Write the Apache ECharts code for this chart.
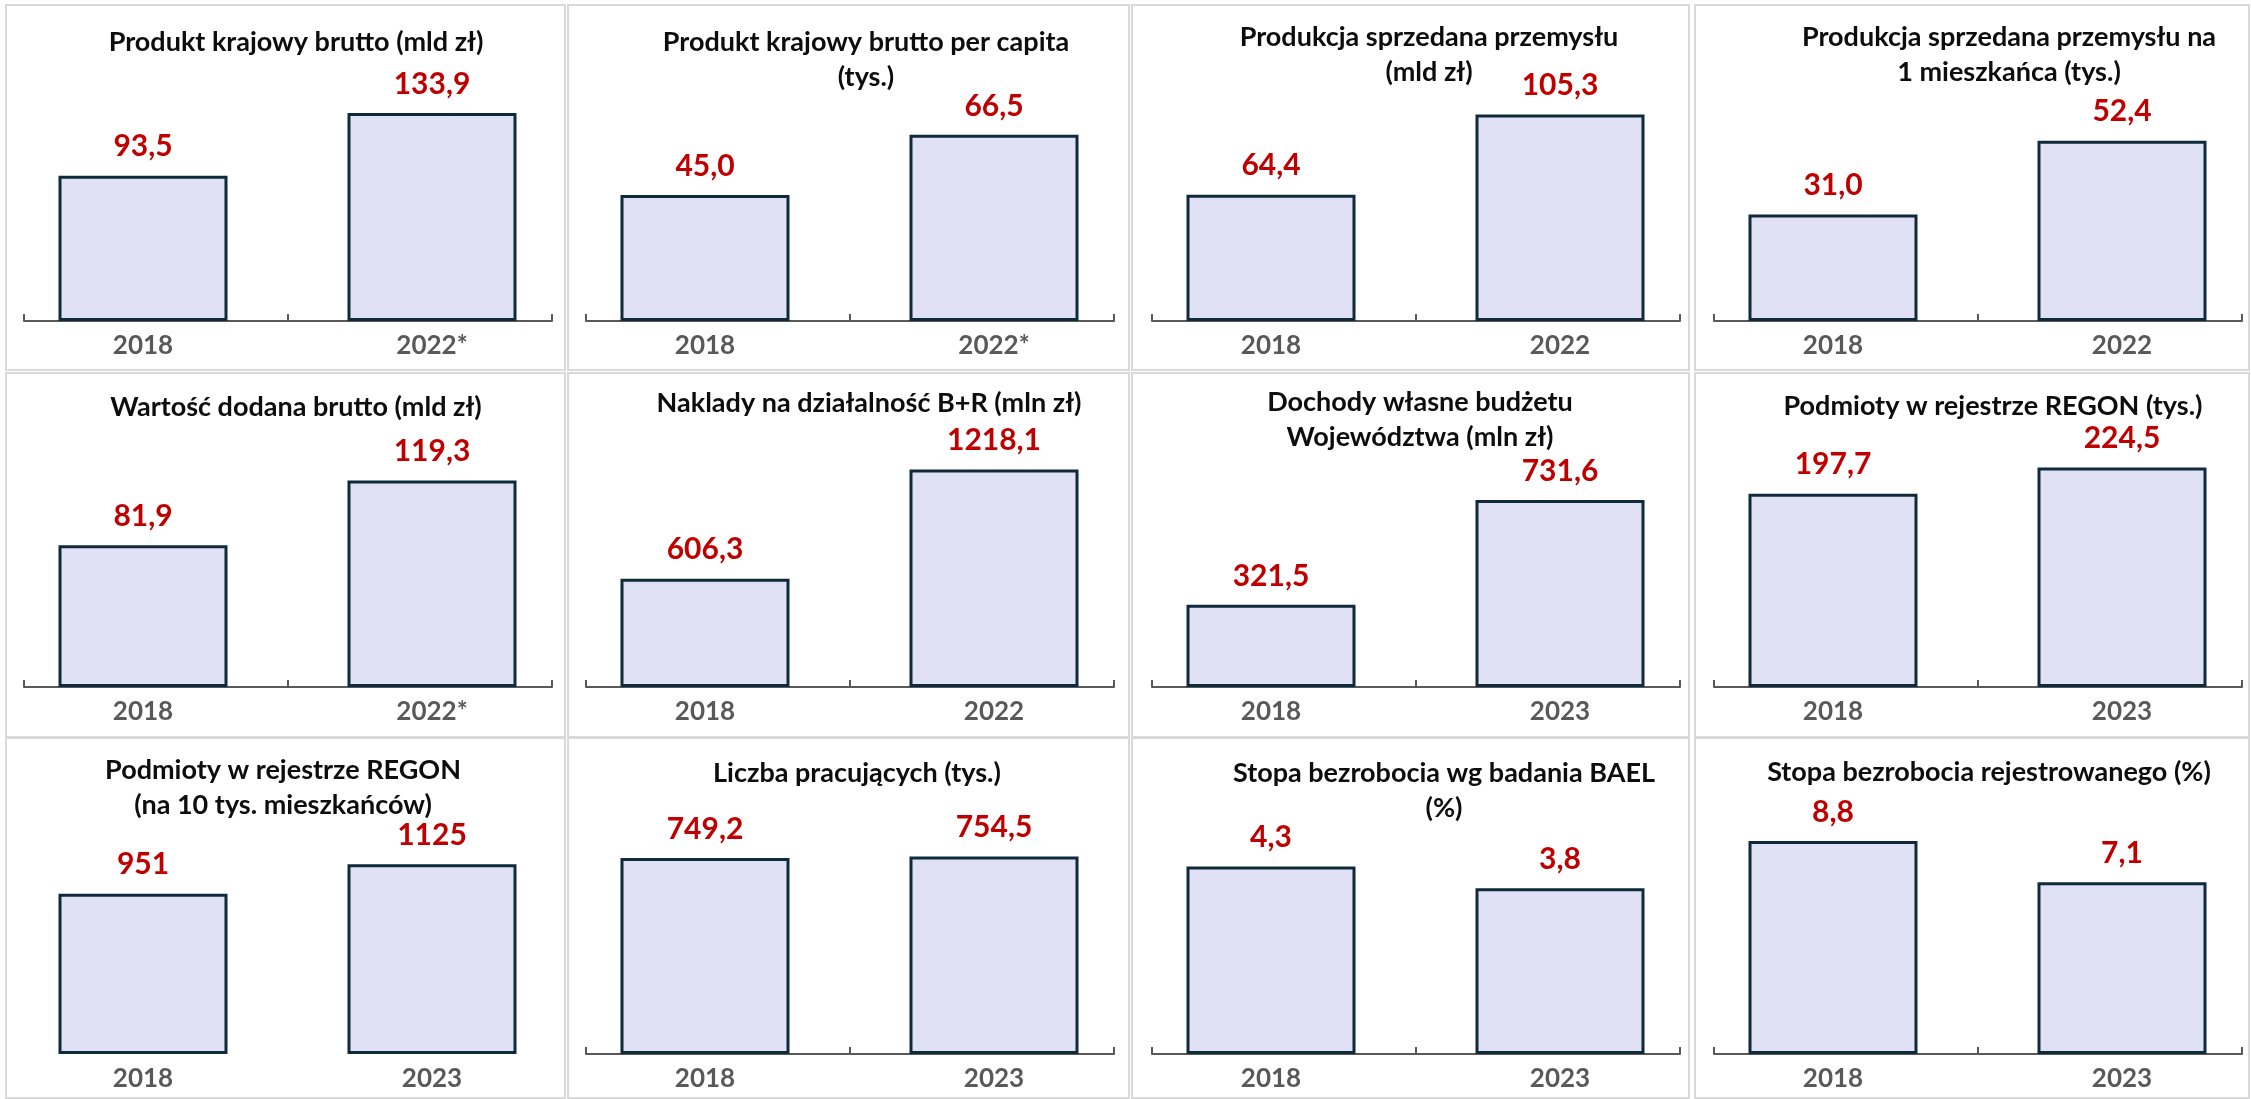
<!DOCTYPE html>
<html><head><meta charset="utf-8">
<script src="https://cdn.jsdelivr.net/npm/echarts@6/dist/echarts.min.js"></script>
<style>html,body{margin:0;padding:0;background:#fff}#c{width:2251px;height:1099px}</style>
</head><body><div id="c"></div>
<script>
// ---------- DATA ----------
const titles = [
  'Produkt krajowy brutto (mld zł)',
  'Produkt krajowy brutto per capita\n(tys.)',
  'Produkcja sprzedana przemysłu\n(mld zł)',
  'Produkcja sprzedana przemysłu na\n1 mieszkańca (tys.)',
  'Wartość dodana brutto (mld zł)',
  'Naklady na działalność B+R (mln zł)',
  'Dochody własne budżetu\nWojewództwa (mln zł)',
  'Podmioty w rejestrze REGON (tys.)',
  'Podmioty w rejestrze REGON\n(na 10 tys. mieszkańców)',
  'Liczba pracujących (tys.)',
  'Stopa bezrobocia wg badania BAEL\n(%)',
  'Stopa bezrobocia rejestrowanego (%)'
];
const categories = [
  ['2018', '2022*'], ['2018', '2022*'], ['2018', '2022'], ['2018', '2022'],
  ['2018', '2022*'], ['2018', '2022'], ['2018', '2023'], ['2018', '2023'],
  ['2018', '2023'], ['2018', '2023'], ['2018', '2023'], ['2018', '2023']
];
const valuesFirst  = [93.5, 45.0, 64.4, 31.0, 81.9, 606.3, 321.5, 197.7, 951, 749.2, 4.3, 8.8];
const valuesSecond = [133.9, 66.5, 105.3, 52.4, 119.3, 1218.1, 731.6, 224.5, 1125, 754.5, 3.8, 7.1];
const decimals     = [1, 1, 1, 1, 1, 1, 1, 1, 0, 1, 1, 1];
const axisMax      = [160.9, 89.3, 127.5, 72.7, 144.5, 1400, 978.5, 255.6, 1483, 955.6, 5.73, 10.33];

// ---------- LAYOUT ----------
const colOffset = [0, 562, 1128, 1690];
const colBox = [[6, 565], [568, 1129], [1132, 1689], [1695, 2249]];
const rowBox = [[5, 370], [373, 737], [738, 1098]];
const rowBaseline = [321, 687, 1054];
const titleY  = [37, 37, 32, 32, 402, 398, 397, 401, 765, 768, 768, 767];
const titleDx = [3, 11, 8, 26, 3, 14, -1, 10, -10, 2, 23, 6];
const showAxisLine = [true, true, true, true, true, true, true, true, false, true, true, true];
const PLOT_H = 250;
const FONT = 'Lato, "Open Sans", sans-serif';

const grid = [], xAxis = [], yAxis = [], series = [], title = [], graphic = [];

titles.forEach((t, i) => {
  const r = Math.floor(i / 4), c = i % 4, off = colOffset[c];
  const base = rowBaseline[r];
  const top = base - PLOT_H;
  const fmt = v => v.toFixed(decimals[i]).replace('.', ',');

  // panel frame
  graphic.push({
    type: 'rect', silent: true,
    shape: { x: colBox[c][0], y: rowBox[r][0], width: colBox[c][1] - colBox[c][0], height: rowBox[r][1] - rowBox[r][0] },
    style: { fill: 'none', stroke: '#d9d9d9', lineWidth: 2 }
  });

  // title
  title.push({
    text: t, left: 288 + off + titleDx[i], top: titleY[i] - 17.5, textAlign: 'center',
    textStyle: { fontFamily: FONT, fontWeight: 'bold', fontSize: 27, color: '#0d0d0d', lineHeight: 35 }
  });

  // grid for the visible category axis line
  const gA = grid.length;
  grid.push({ left: 24 + off, width: 528, top: top, height: PLOT_H });
  xAxis.push({
    type: 'category', gridIndex: gA, data: categories[i], boundaryGap: true,
    show: showAxisLine[i],
    axisLine: { show: true, lineStyle: { color: '#595959', width: 2 } },
    axisTick: { show: true, inside: true, length: 7, interval: 0, lineStyle: { color: '#595959', width: 2 } },
    axisLabel: { show: false }, splitLine: { show: false }
  });
  yAxis.push({ type: 'value', gridIndex: gA, min: 0, max: axisMax[i], show: false });

  // grid for bars (category points at bar centres)
  const gB = grid.length;
  grid.push({ left: 143 + off, width: 289, top: top, height: PLOT_H });
  xAxis.push({
    type: 'category', gridIndex: gB, data: categories[i], boundaryGap: false,
    axisLine: { show: false }, axisTick: { show: false }, splitLine: { show: false },
    axisLabel: { show: true, interval: 0, margin: 12, color: '#595959', fontSize: 26, fontWeight: 'bold', fontFamily: FONT }
  });
  yAxis.push({ type: 'value', gridIndex: gB, min: 0, max: axisMax[i], show: false });

  series.push({
    type: 'bar', xAxisIndex: gB, yAxisIndex: gB, clip: false,
    data: [valuesFirst[i], valuesSecond[i]],
    barWidth: 169,
    itemStyle: { color: '#e0e1f5', borderColor: '#0e2a3b', borderWidth: 3 },
    label: {
      show: true, position: 'top', distance: 14,
      color: '#c00000', fontSize: 30, fontWeight: 'bold', fontFamily: FONT,
      formatter: p => fmt(p.value)
    }
  });
});

const chart = echarts.init(document.getElementById('c'), null, { renderer: 'canvas' });
chart.setOption({
  animation: false,
  backgroundColor: '#ffffff',
  title, grid, xAxis, yAxis, series,
  graphic: { elements: graphic }
});
</script></body></html>
